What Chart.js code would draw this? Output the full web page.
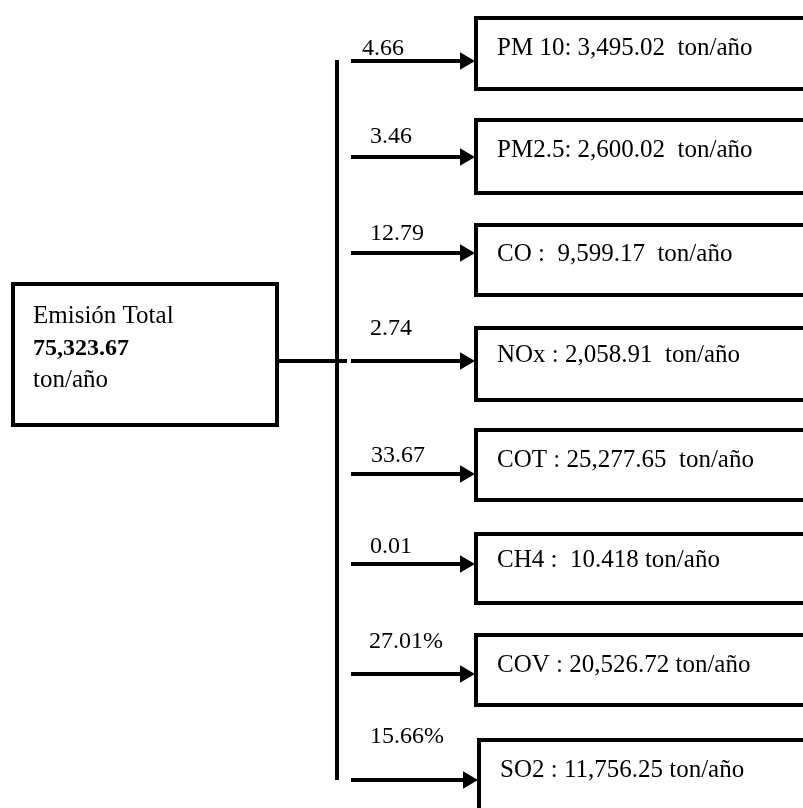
<!DOCTYPE html>
<html lang="es">
<head>
  <meta charset="UTF-8" />
  <title>Emisión Total – Diagrama</title>
  <script src="https://cdn.jsdelivr.net/npm/chart.js"></script>
  <style>
    html, body { margin: 0; padding: 0; background: #fff; }
    #diagram { display: block; }
  </style>
</head>
<body>
  <canvas id="diagram" width="803" height="808"></canvas>

  <script>
    // --- datos ---
    const totalTitle = 'Emisión Total';
    const totalValue = '75,323.67';
    const totalUnit = 'ton/año';

    const boxLabels = [
      'PM 10: 3,495.02  ton/año',
      'PM2.5: 2,600.02  ton/año',
      'CO :  9,599.17  ton/año',
      'NOx : 2,058.91  ton/año',
      'COT : 25,277.65  ton/año',
      'CH4 :  10.418 ton/año',
      'COV : 20,526.72 ton/año',
      'SO2 : 11,756.25 ton/año',
    ];
    const shares = ['4.66', '3.46', '12.79', '2.74', '33.67', '0.01', '27.01%', '15.66%'];

    // --- layout (en unidades de la escala = px) ---
    const W = 803, H = 808;
    const LW = 4; // grosor de línea
    const arrowY = [61, 157, 253, 361, 474, 564, 674, 780];
    const boxTop = [16, 118, 223, 326, 428, 532, 633, 738];
    const boxBottom = [91, 195, 297, 402, 502, 605, 707, 840];
    const boxLeft = [474, 474, 474, 474, 474, 474, 474, 477];
    const labelY = [55, 157, 261, 362, 467, 567, 672, 777];
    const shareY = [55, 143, 240, 335, 462, 553, 648, 743];
    const shareX = [362, 370, 370, 370, 371, 370, 369, 370];
    const trunkX = 337, trunkTop = 60, trunkBottom = 780;
    const arrowStart = 351, headR = 10;
    const mainBox = { x0: 11, y0: 282, x1: 279, y1: 427 };
    const serif = "'Liberation Serif', 'DejaVu Serif', serif";

    // rectángulo con borde exterior en (x0,y0)-(x1,y1);
    // el trazo empieza a mitad del lado superior para que las esquinas queden en inglete
    const rect = (x0, y0, x1, y1) => {
      const h = LW / 2;
      const mx = (x0 + x1) / 2;
      return [
        { x: mx, y: y0 + h }, { x: x1 - h, y: y0 + h },
        { x: x1 - h, y: y1 - h }, { x: x0 + h, y: y1 - h },
        { x: x0 + h, y: y0 + h }, { x: mx + 1, y: y0 + h },
      ];
    };

    const lineDs = (data, extra = {}) => ({
      data,
      showLine: true,
      borderColor: '#000',
      borderWidth: LW,
      pointRadius: 0,
      tension: 0,
      borderJoinStyle: 'miter',
      clip: false,
      ...extra,
    });

    const datasets = [];

    // caja principal
    datasets.push(lineDs(rect(mainBox.x0, mainBox.y0, mainBox.x1, mainBox.y1)));
    // conexión caja -> tronco
    datasets.push(lineDs([{ x: mainBox.x1, y: arrowY[3] }, { x: trunkX + 10, y: arrowY[3] }]));
    // tronco vertical
    datasets.push(lineDs([{ x: trunkX, y: trunkTop }, { x: trunkX, y: trunkBottom }]));

    boxLabels.forEach((_, i) => {
      // caja de contaminante (el lado derecho queda fuera de la imagen)
      datasets.push(lineDs(rect(boxLeft[i], boxTop[i], W + 20, boxBottom[i])));
      // flecha
      datasets.push(lineDs(
        [{ x: arrowStart, y: arrowY[i] }, { x: boxLeft[i] + 1 - headR, y: arrowY[i] }],
        {
          pointStyle: 'triangle',
          rotation: 90,
          pointRadius: (c) => (c.dataIndex === 1 ? headR : 0),
          pointBackgroundColor: '#000',
          pointBorderColor: '#000',
          pointBorderWidth: 0,
        }
      ));
    });

    const textPlugin = {
      id: 'diagramText',
      afterDatasetsDraw(chart) {
        const { ctx, scales: { x, y } } = chart;
        ctx.save();
        ctx.fillStyle = '#000';
        ctx.textBaseline = 'alphabetic';
        ctx.textAlign = 'left';

        // caja principal
        const tx = x.getPixelForValue(33);
        ctx.font = `25px ${serif}`;
        ctx.fillText(totalTitle, tx, y.getPixelForValue(323));
        ctx.font = `bold 24px ${serif}`;
        ctx.fillText(totalValue, tx, y.getPixelForValue(355));
        ctx.font = `25px ${serif}`;
        ctx.fillText(totalUnit, tx, y.getPixelForValue(387));

        // etiquetas de cada caja
        boxLabels.forEach((label, i) => {
          ctx.font = `25px ${serif}`;
          ctx.fillText(label, x.getPixelForValue(boxLeft[i] + 23), y.getPixelForValue(labelY[i]));
          ctx.font = `24px ${serif}`;
          ctx.fillText(shares[i], x.getPixelForValue(shareX[i]), y.getPixelForValue(shareY[i]));
        });
        ctx.restore();
      }
    };

    new Chart(document.getElementById('diagram'), {
      type: 'scatter',
      data: { datasets },
      options: {
        responsive: false,
        animation: false,
        devicePixelRatio: 1,
        layout: { padding: 0, autoPadding: false },
        plugins: {
          legend: { display: false },
          tooltip: { enabled: false },
        },
        scales: {
          x: { type: 'linear', min: 0, max: W, display: false },
          y: { type: 'linear', min: 0, max: H, reverse: true, display: false },
        },
      },
      plugins: [textPlugin],
    });
  </script>
</body>
</html>
